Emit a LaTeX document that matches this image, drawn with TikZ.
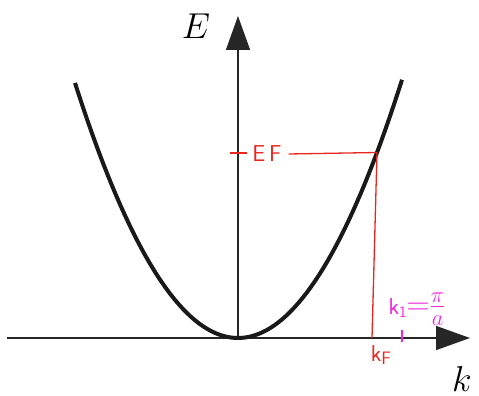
\RequirePackage{fix-cm}
\documentclass[tikz,border=0pt]{standalone}
\usepackage{amsmath}
\usepackage{tikz}
\usetikzlibrary{arrows.meta}
\definecolor{penred}{HTML}{E8261E}
\definecolor{penpink}{HTML}{F026DC}

\begin{document}
\begin{tikzpicture}[
  x=1pt, y=1pt,
  axis/.style   ={line width=1.5pt, black!85,
                  -{Triangle[length=34pt,width=24pt]}},
  band/.style   ={line width=4pt, black!90},
  redline/.style={line width=1.3pt, penred},
  axlabel/.style={font=\fontsize{36}{40}\selectfont},
  pen/.style    ={font=\fontsize{23}{24}\selectfont\sffamily, inner sep=0pt}
]
  \useasboundingbox (-238,-58) rectangle (241,338);
  % axes
  \coordinate (o)  at (0,0);
  \coordinate (xl) at (-231,0);
  \coordinate (xr) at (232,0);
  \coordinate (yt) at (0,322);
  \draw[axis] (xl) -- (xr);
  \draw[axis] (o) -- (yt);
  \node[axlabel] (E) at (-42,312) {$E$};
  \node[axlabel] (k) at (224,-41) {$k$};
  % dispersion
  \draw[band] plot[domain=-163:164, samples=80] (\x, {96*(\x/100)*(\x/100)});
  % Fermi level
  \coordinate (fermi) at (139,185.5);
  \coordinate (kFax)  at (134,0);
  \node[pen, text=penred] (EF) at (29,184) {E\,F};
  \node[pen, text=penred] (kF) at (143,-17) {k\raisebox{-3pt}{\fontsize{18}{18}\selectfont F}};
  \draw[redline] (-8,185) -- (9,185);
  \draw[redline] (EF.east) ++(7,0) -- (fermi);
  \draw[redline] (fermi) -- (kFax);
  % zone edge
  \node[pen, text=penpink] (k1) at (179,29)
    {k\raisebox{-3pt}{\fontsize{16}{16}\selectfont 1}{\fontsize{32}{34}\selectfont$\mathsf{=}\frac{\pi}{a}$}};
  \draw[line width=1.3pt, penpink] (164,-4) -- (164,8);
\end{tikzpicture}
\end{document}
